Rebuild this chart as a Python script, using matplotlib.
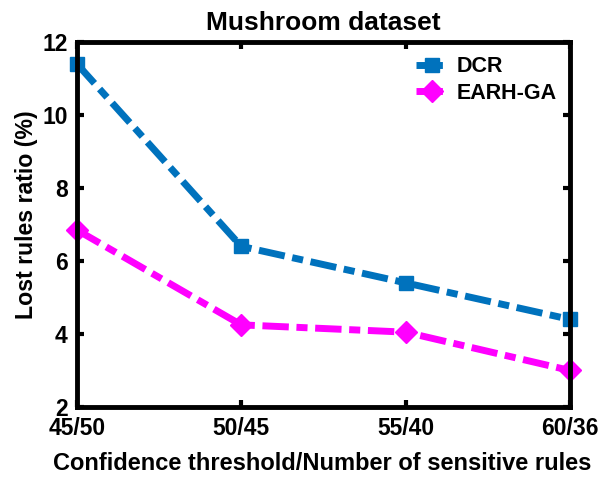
import matplotlib
matplotlib.use('Agg')
import matplotlib.pyplot as plt

# data
labels = ['45/50', '50/45', '55/40', '60/36']
dcr = [11.4, 6.4, 5.4, 4.4]
earh = [6.85, 4.25, 4.05, 3.0]

plt.rcParams['font.family'] = ['Liberation Sans', 'DejaVu Sans']
plt.rcParams['font.weight'] = 'bold'

fig = plt.figure(figsize=(6, 4.78), dpi=100)
ax = fig.add_axes([0.128, 0.1485, 0.822, 0.764])

dash = (3.8, 1.1, 1.6, 1.1)
x = range(len(labels))
ax.plot(x, dcr, color='#0072BD', linestyle=(0, dash), linewidth=5,
        marker='s', markersize=9.5, label='DCR', clip_on=False)
ax.plot(x, earh, color='#FF00FF', linestyle=(0, dash), linewidth=5,
        marker='D', markersize=11.5, label='EARH-GA', clip_on=False)

ax.set_xlim(0, 3)
ax.set_ylim(2, 12)
ax.set_xticks(list(x))
ax.set_xticklabels(labels)
ax.set_yticks([2, 4, 6, 8, 10, 12])
ax.tick_params(direction='in', length=5, width=3, labelsize=16.5,
               top=True, right=True)
ax.tick_params(axis='x', pad=7.5)
ax.tick_params(axis='y', pad=6.5)
for s in ax.spines.values():
    s.set_linewidth(3.5)

fig.text(323 / 600, 1 - 30 / 478, 'Mushroom dataset', fontsize=19,
         fontweight='bold', ha='center', va='baseline')
fig.text(322 / 600, 1 - 470 / 478, 'Confidence threshold/Number of sensitive rules',
         fontsize=17, fontweight='bold', ha='center', va='baseline')
fig.text(27 / 600, 1 - 215 / 478, 'Lost rules ratio (%)', fontsize=16.7,
         fontweight='bold', ha='center', va='center', rotation=90)

ax.legend(loc='upper left', bbox_to_anchor=(397 / 600, 1 - 37 / 478),
          bbox_transform=fig.transFigure, frameon=False, fontsize=15.5,
          handlelength=1.45, handletextpad=0.42, labelspacing=0.25,
          borderpad=0.4)

fig.savefig('out.png', dpi=100)
